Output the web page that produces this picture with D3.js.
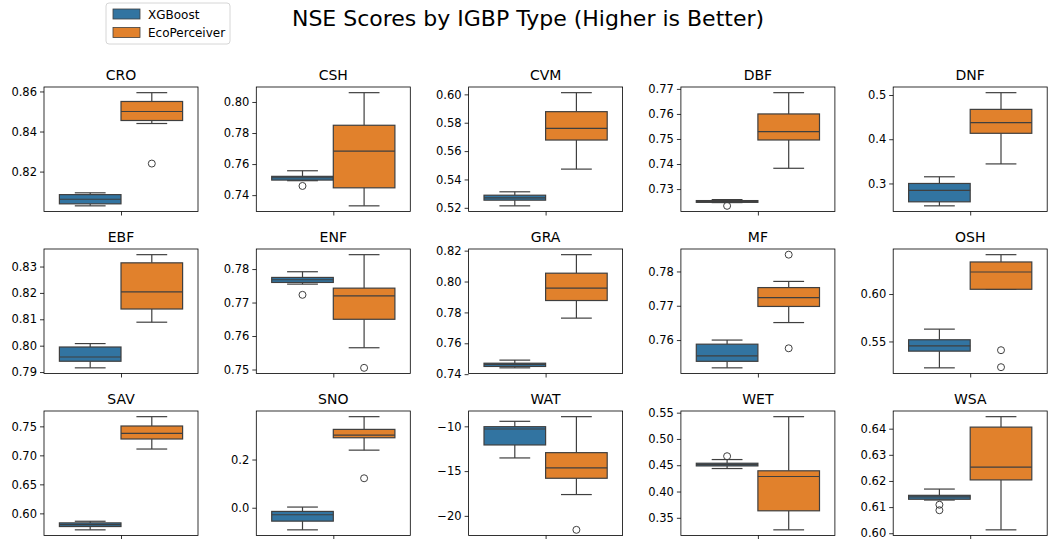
<!DOCTYPE html>
<html>
<head>
<meta charset="utf-8">
<script src="https://cdn.jsdelivr.net/npm/d3@7"></script>
<style>
  body { margin: 0; background: #fff; }
  svg { display: block; font-family: "DejaVu Sans", sans-serif; }
</style>
</head>
<body>
<div id="chart"></div>
<script>
// IGBP types, one panel each (row by row)
var igbp = ["CRO", "CSH", "CVM", "DBF", "DNF",
            "EBF", "ENF", "GRA", "MF", "OSH",
            "SAV", "SNO", "WAT", "WET", "WSA"];

var models = ["XGBoost", "EcoPerceiver"];

// [lower whisker, q1, median, q3, upper whisker]
var xgbBoxes = [
  [0.8029, 0.8039, 0.8062, 0.8085, 0.8094],
  [0.7493, 0.7497, 0.7512, 0.7521, 0.7557],
  [0.5214, 0.5254, 0.5270, 0.5289, 0.5313],
  [0.7246, 0.7247, 0.7250, 0.7254, 0.7258],
  [0.2494, 0.2585, 0.2842, 0.3000, 0.3151],
  [0.7916, 0.7941, 0.7957, 0.7995, 0.8008],
  [0.7755, 0.7760, 0.7768, 0.7775, 0.7792],
  [0.7441, 0.7450, 0.7463, 0.7471, 0.7491],
  [0.7519, 0.7538, 0.7554, 0.7588, 0.7600],
  [0.5222, 0.5398, 0.5454, 0.5518, 0.5630],
  [0.5716, 0.5773, 0.5807, 0.5836, 0.5864],
  [-0.0917, -0.0556, -0.0292, -0.0153, 0.0028],
  [-13.53, -12.08, -10.30, -10.04, -9.44],
  [0.4437, 0.4487, 0.4513, 0.4538, 0.4608],
  [0.6127, 0.6130, 0.6139, 0.6145, 0.6169]
];
var xgbFliers = [[], [0.7459], [], [0.7233], [], [], [0.7723], [], [], [], [], [], [], [0.4672], [0.6109, 0.6088]];

var ecoBoxes = [
  [0.8440, 0.8455, 0.8500, 0.8550, 0.8594],
  [0.7331, 0.7447, 0.7683, 0.7850, 0.8060],
  [0.5473, 0.5678, 0.5760, 0.5878, 0.6012],
  [0.7383, 0.7496, 0.7529, 0.7600, 0.7685],
  [0.3442, 0.4134, 0.4377, 0.4675, 0.5053],
  [0.8089, 0.8139, 0.8204, 0.8314, 0.8345],
  [0.7565, 0.7650, 0.7720, 0.7743, 0.7843],
  [0.7763, 0.7877, 0.7957, 0.8054, 0.8174],
  [0.7651, 0.7698, 0.7724, 0.7753, 0.7771],
  [0.6049, 0.6050, 0.6232, 0.6338, 0.6415],
  [0.7109, 0.7282, 0.7379, 0.7506, 0.7667],
  [0.2389, 0.2903, 0.3014, 0.3250, 0.3778],
  [-17.62, -15.80, -14.65, -12.94, -8.92],
  [0.3271, 0.3633, 0.4286, 0.4394, 0.5424],
  [0.6013, 0.6204, 0.6253, 0.6406, 0.6446]
];
var ecoFliers = [[0.8240], [], [], [], [], [], [0.7505], [], [0.7849, 0.7576], [0.5408, 0.5229], [], [0.1222], [-21.56], [], []];

// y tick values and decimals shown per panel
var yTicks = [
  [0.82, 0.84, 0.86],
  [0.74, 0.76, 0.78, 0.80],
  [0.52, 0.54, 0.56, 0.58, 0.60],
  [0.73, 0.74, 0.75, 0.76, 0.77],
  [0.3, 0.4, 0.5],
  [0.79, 0.80, 0.81, 0.82, 0.83],
  [0.75, 0.76, 0.77, 0.78],
  [0.74, 0.76, 0.78, 0.80, 0.82],
  [0.76, 0.77, 0.78],
  [0.55, 0.60],
  [0.60, 0.65, 0.70, 0.75],
  [0.0, 0.2],
  [-20, -15, -10],
  [0.35, 0.40, 0.45, 0.50, 0.55],
  [0.60, 0.61, 0.62, 0.63, 0.64]
];
var yDecimals = [2, 2, 2, 2, 1, 2, 2, 2, 2, 2, 2, 1, 0, 2, 2];

var colors = ["#3274a1", "#e1812c"];
var lineColor = "#3f3f3f";

var W = 1048, H = 539;
var axLeft = 44, colStep = 212.3, axW = 154;
var axTop = 87, rowStep = 162, axH = 124.5;

var svg = d3.select("#chart").append("svg")
    .attr("width", W)
    .attr("height", H);

// figure title
svg.append("text")
    .attr("x", 528)
    .attr("y", 26)
    .attr("text-anchor", "middle")
    .style("font-size", "22px")
    .text("NSE Scores by IGBP Type (Higher is Better)");

// legend
var legend = svg.append("g").attr("transform", "translate(106,3)");
legend.append("rect")
    .attr("width", 124).attr("height", 41)
    .attr("rx", 3)
    .attr("fill", "#fff").attr("fill-opacity", 0.8)
    .attr("stroke", "#d6d6d6");
models.forEach(function(m, i) {
  legend.append("rect")
      .attr("x", 7).attr("y", 6 + i * 18.5)
      .attr("width", 27).attr("height", 10)
      .attr("fill", colors[i])
      .attr("stroke", lineColor).attr("stroke-width", 0.8);
  legend.append("text")
      .attr("x", 42).attr("y", 15.5 + i * 18.5)
      .style("font-size", "12px")
      .text(m);
});

var x = d3.scaleLinear().domain([-0.5, 0.5]).range([0, axW]);

igbp.forEach(function(name, p) {
  var col = p % 5, row = Math.floor(p / 5);
  var g = svg.append("g")
      .attr("transform", "translate(" + (axLeft + col * colStep) + "," + (axTop + row * rowStep) + ")");

  var all = xgbBoxes[p].concat(ecoBoxes[p], xgbFliers[p], ecoFliers[p]);
  var lo = d3.min(all), hi = d3.max(all), pad = (hi - lo) * 0.05;
  var y = d3.scaleLinear().domain([lo - pad, hi + pad]).range([axH, 0]);

  var fmt = function(d) { return d3.format("." + yDecimals[p] + "f")(d).replace("-", "\u2212"); };

  var yAxis = d3.axisLeft(y).tickValues(yTicks[p]).tickFormat(fmt).tickSize(4).tickPadding(3);
  var ya = g.append("g").call(yAxis);
  ya.select(".domain").remove();
  ya.selectAll("line").attr("stroke", "#000").attr("stroke-width", 0.8);
  ya.selectAll("text").style("font-size", "11.5px").attr("fill", "#000").style("font-family", "DejaVu Sans");

  var xAxis = d3.axisBottom(x).tickValues([0]).tickFormat("").tickSize(4);
  var xa = g.append("g").attr("transform", "translate(0," + axH + ")").call(xAxis);
  xa.select(".domain").remove();
  xa.selectAll("line").attr("stroke", "#000").attr("stroke-width", 0.8);

  // boxes
  [xgbBoxes[p], ecoBoxes[p]].forEach(function(b, i) {
    var x0 = i === 0 ? -0.4 : 0, x1 = x0 + 0.4, xc = (x0 + x1) / 2;
    var capW = 0.1;
    var bg = g.append("g")
        .attr("stroke", lineColor).attr("stroke-width", 1.2).attr("fill", "none");
    bg.append("line").attr("x1", x(xc)).attr("x2", x(xc)).attr("y1", y(b[0])).attr("y2", y(b[1]));
    bg.append("line").attr("x1", x(xc)).attr("x2", x(xc)).attr("y1", y(b[3])).attr("y2", y(b[4]));
    bg.append("line").attr("x1", x(xc - capW)).attr("x2", x(xc + capW)).attr("y1", y(b[0])).attr("y2", y(b[0]));
    bg.append("line").attr("x1", x(xc - capW)).attr("x2", x(xc + capW)).attr("y1", y(b[4])).attr("y2", y(b[4]));
    bg.append("rect")
        .attr("x", x(x0)).attr("width", x(x1) - x(x0))
        .attr("y", y(b[3])).attr("height", Math.max(0.5, y(b[1]) - y(b[3])))
        .attr("fill", colors[i]);
    bg.append("line").attr("x1", x(x0)).attr("x2", x(x1)).attr("y1", y(b[2])).attr("y2", y(b[2]));

    var fl = i === 0 ? xgbFliers[p] : ecoFliers[p];
    bg.selectAll("circle").data(fl).enter().append("circle")
        .attr("cx", x(xc)).attr("cy", function(d) { return y(d); })
        .attr("r", 3.5).attr("stroke-width", 1);
  });

  // frame
  g.append("rect")
      .attr("width", axW).attr("height", axH)
      .attr("fill", "none").attr("stroke", "#000").attr("stroke-width", 0.8);

  g.append("text")
      .attr("x", axW / 2).attr("y", -7)
      .attr("text-anchor", "middle")
      .style("font-size", "14px")
      .text(name);
});
</script>
</body>
</html>
